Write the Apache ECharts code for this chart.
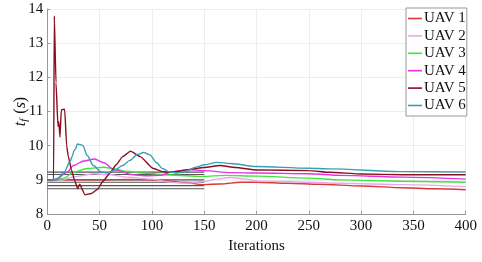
<!DOCTYPE html>
<html>
<head>
<meta charset="utf-8">
<script src="https://cdn.jsdelivr.net/npm/echarts@6/dist/echarts.min.js"></script>
<style>html,body{margin:0;padding:0;background:#fff}#c{width:482px;height:262px}</style>
</head>
<body>
<div id="c"></div>
<script>
var names = ['UAV 1','UAV 2','UAV 3','UAV 4','UAV 5','UAV 6'];
var xTicks = [0,50,100,150,200,250,300,350,400];
var yTicks = [8,9,10,11,12,13,14];

var uav1X = [0,20,50,80,100,115,130,150,165,185,200,230,260,300,340,370,400];
var uav1Y = [9.0,9.0,9.0,9.01,9.0,8.97,8.92,8.86,8.88,8.93,8.93,8.9,8.87,8.82,8.77,8.74,8.71];

var uav2X = [0,10,28,45,60,76,100,120,133,150,162,175,190,200,250,280,340,400];
var uav2Y = [8.95,8.97,9.1,9.18,9.15,9.08,9.02,8.92,8.9,8.95,9.02,9.07,9.02,8.97,8.93,8.9,8.86,8.8];

var uav3X = [0,10,16,25,38,54,64,76,90,117,148,170,200,250,280,340,400];
var uav3Y = [9.0,9.0,9.05,9.22,9.33,9.37,9.32,9.25,9.2,9.14,9.1,9.13,9.11,9.05,9.0,8.96,8.93];

var uav4X = [0,8,19,25,35,45,54,64,82,95,108,120,135,150,175,200,250,280,340,400];
var uav4Y = [9.0,9.0,9.22,9.42,9.55,9.61,9.5,9.3,9.15,9.12,9.13,9.24,9.3,9.27,9.21,9.2,9.18,9.13,9.08,9.02];

var uav5X = [0,6,6.7,8.3,10.2,11,12.1,13.4,16.6,18.5,20,23,26.5,29,31,36,42,48,53,60,66,72,79.5,89,101,110,118,135,150,165,180,200,250,270,300,340,400];
var uav5Y = [9.0,9.0,13.8,11.85,10.56,10.7,10.25,11.05,11.07,10.0,9.7,9.3,8.95,8.74,8.87,8.56,8.6,8.72,8.95,9.2,9.45,9.68,9.84,9.68,9.34,9.24,9.22,9.3,9.36,9.42,9.36,9.29,9.27,9.22,9.17,9.15,9.15];

var uav6X = [0,6,10,16,22,24,25.5,27,28.7,32,34,38,44,51,57,64,72,79,86,92,98,104.6,110,117,124,130,143,150,162,175,200,250,270,337,400];
var uav6Y = [9.0,9.0,9.05,9.22,9.55,9.7,9.85,9.9,10.05,10.03,10.0,9.72,9.42,9.24,9.2,9.27,9.42,9.57,9.74,9.8,9.73,9.5,9.33,9.23,9.2,9.22,9.38,9.44,9.51,9.48,9.39,9.34,9.32,9.24,9.23];

var refX = [0,150];
var refValues = [9.225,9.155,9.0,8.93,8.83,8.74];

var colors = ['#d63a3a','#e9a8ea','#3ee63a','#e632e6','#8c0f1e','#3a9fb5'];
var xs = [uav1X,uav2X,uav3X,uav4X,uav5X,uav6X];
var ys = [uav1Y,uav2Y,uav3Y,uav4Y,uav5Y,uav6Y];

function zip(a,b){var r=[];for(var i=0;i<a.length;i++)r.push([a[i],b[i]]);return r;}

var series = [];
refValues.forEach(function(v,i){
  series.push({name:'ref'+i,type:'line',data:refX.map(function(x){return [x,v];}),
    symbol:'none',silent:true,lineStyle:{color:'#555',width:1.1},z:1});
});
names.forEach(function(n,i){
  series.push({name:n,type:'line',data:zip(xs[i],ys[i]),symbol:'none',
    smooth: i===4 ? 0.15 : 0.3, smoothMonotone:'x',
    lineStyle:{color:colors[i],width:1.4},itemStyle:{color:colors[i]},z:2+i});
});

var font = 'Liberation Serif';
var chart = echarts.init(document.getElementById('c'));
chart.setOption({
  animation:false,
  grid:{left:47.3,right:16.3,top:9,bottom:48,outerBoundsMode:'none',containLabel:false},
  legend:{data:names,orient:'vertical',left:406,top:8,icon:'rect',itemWidth:14,itemHeight:1.6,
    itemGap:2.4,padding:[3,1,3,2],borderColor:'#999',borderWidth:1,backgroundColor:'#fff',
    textStyle:{fontFamily:font,fontSize:15,color:'#111',padding:[0,0,0,-3]}},
  xAxis:{type:'value',min:0,max:400,interval:50,name:'Iterations',nameLocation:'middle',nameGap:23,
    nameTextStyle:{fontFamily:font,fontSize:15,color:'#111'},
    axisLine:{lineStyle:{color:'#999'}},axisTick:{inside:true,length:3,lineStyle:{color:'#999'}},
    axisLabel:{fontFamily:font,fontSize:15,color:'#111',margin:5},
    splitLine:{show:true,lineStyle:{color:'#e9eeee',width:1}}},
  yAxis:{type:'value',min:8,max:14,interval:1,name:'{i|t}{s|f} ({i|s})',nameLocation:'middle',nameGap:18,
    nameMoveOverlap:false,
    nameTextStyle:{fontFamily:font,fontSize:16,color:'#111',
      rich:{i:{fontFamily:font,fontSize:16,fontStyle:'italic',color:'#111'},
            s:{fontFamily:font,fontSize:11,fontStyle:'italic',color:'#111',verticalAlign:'bottom',padding:[6,1,0,0]}}},
    axisLine:{show:true,lineStyle:{color:'#999'}},axisTick:{show:true,inside:true,length:3,lineStyle:{color:'#999'}},
    axisLabel:{fontFamily:font,fontSize:15,color:'#111',margin:4},
    splitLine:{show:true,lineStyle:{color:'#e9eeee',width:1}}},
  series:series
});
</script>
</body>
</html>
